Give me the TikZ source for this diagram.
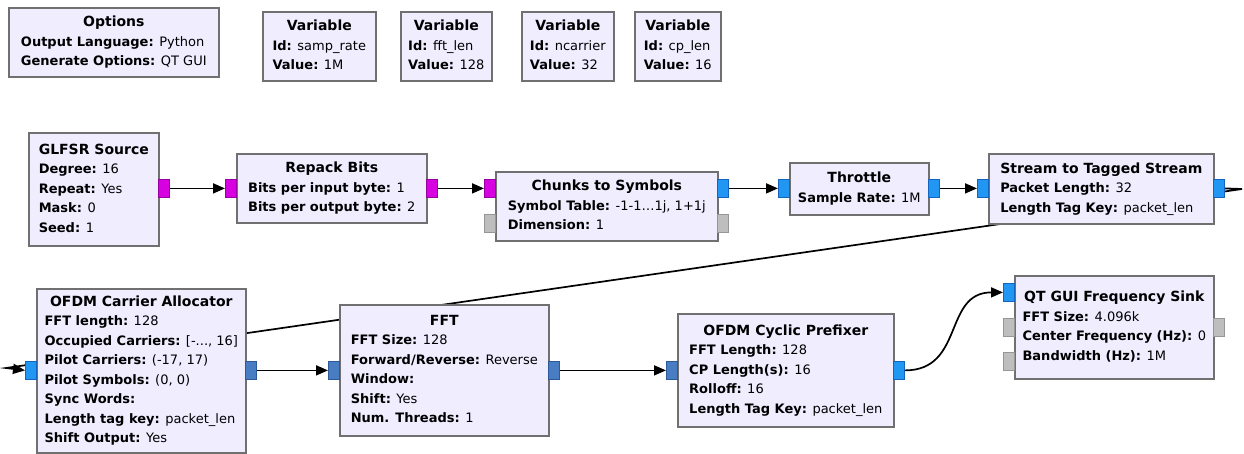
\documentclass[tikz,border=0pt]{standalone}
\usepackage{fontspec}
\setmainfont{DejaVu Sans}
\usetikzlibrary{arrows.meta}
\pgfdeclarelayer{bg}
\pgfsetlayers{bg,main}
\definecolor{blockfill}{RGB}{240,237,255}
\definecolor{blockedge}{RGB}{112,112,112}
\definecolor{pbyte}{RGB}{214,0,224}
\definecolor{pbyteedge}{RGB}{150,0,160}
\definecolor{pcpx}{RGB}{33,150,243}
\definecolor{pcpxedge}{RGB}{20,100,190}
\definecolor{pvec}{RGB}{72,125,195}
\definecolor{pvecedge}{RGB}{45,90,150}
\definecolor{pmsg}{RGB}{190,190,190}
\definecolor{pmsgedge}{RGB}{150,150,150}
\newcommand{\ttl}[1]{\multicolumn{1}{@{}c@{}}{\fontsize{14}{19.5}\selectfont\bfseries #1}}
\newcommand{\prm}[2]{\textbf{#1:} #2}
\tikzset{
  block/.style={draw=blockedge, fill=blockfill, line width=1.6pt, inner sep=0pt,
    anchor=north west, font=\fontsize{13}{19.5}\selectfont},
  port/.style={anchor=north west, minimum width=11pt, minimum height=18pt, inner sep=0pt, line width=0.8pt},
  bytep/.style={port, fill=pbyte, draw=pbyteedge},
  cpxp/.style={port, fill=pcpx, draw=pcpxedge},
  vecp/.style={port, fill=pvec, draw=pvecedge},
  msgp/.style={port, fill=pmsg, draw=pmsgedge},
  conn/.style={line width=1.7pt, -{Triangle[length=12pt,width=10pt]}},
}
\begin{document}
\begin{tikzpicture}[x=1pt,y=-1pt]
\useasboundingbox (0,0) rectangle (1244,454);
\begin{pgfonlayer}{bg}
\fill[white] (0,0) rectangle (1244,454);
\end{pgfonlayer}

% top row
\node[block, minimum width=210pt, minimum height=69pt] (options) at (8,7)
  {\begin{tabular}{@{}l@{}}\ttl{Options}\\\prm{Output Language}{Python}\\\prm{Generate Options}{QT GUI}\end{tabular}};
\node[block, minimum width=113pt, minimum height=69pt] (var1) at (262,11)
  {\begin{tabular}{@{}l@{}}\ttl{Variable}\\\prm{Id}{samp\_rate}\\\prm{Value}{1M}\end{tabular}};
\node[block, minimum width=91pt, minimum height=69pt] (var2) at (400,11)
  {\begin{tabular}{@{}l@{}}\ttl{Variable}\\\prm{Id}{fft\_len}\\\prm{Value}{128}\end{tabular}};
\node[block, minimum width=92pt, minimum height=69pt] (var3) at (521,11)
  {\begin{tabular}{@{}l@{}}\ttl{Variable}\\\prm{Id}{ncarrier}\\\prm{Value}{32}\end{tabular}};
\node[block, minimum width=86pt, minimum height=69pt] (var4) at (634,11)
  {\begin{tabular}{@{}l@{}}\ttl{Variable}\\\prm{Id}{cp\_len}\\\prm{Value}{16}\end{tabular}};

% second row
\node[block, minimum width=130pt, minimum height=113pt] (glfsr) at (28,132)
  {\begin{tabular}{@{}l@{}}\ttl{GLFSR Source}\\\prm{Degree}{16}\\\prm{Repeat}{Yes}\\\prm{Mask}{0}\\\prm{Seed}{1}\end{tabular}};
\node[block, minimum width=190pt, minimum height=69pt] (repack) at (236,153)
  {\begin{tabular}{@{}l@{}}\ttl{Repack Bits}\\\prm{Bits per input byte}{1}\\\prm{Bits per output byte}{2}\end{tabular}};
\node[block, minimum width=222pt, minimum height=69pt] (chunks) at (495,171)
  {\begin{tabular}{@{}l@{}}\ttl{Chunks to Symbols}\\\prm{Symbol Table}{-1-1…1j, 1+1j}\\\prm{Dimension}{1}\end{tabular}};
\node[block, minimum width=139pt, minimum height=52pt] (thr) at (789,162)
  {\begin{tabular}{@{}l@{}}\ttl{Throttle}\\\prm{Sample Rate}{1M}\end{tabular}};
\node[block, minimum width=225pt, minimum height=70pt] (sts) at (988,153)
  {\begin{tabular}{@{}l@{}}\ttl{Stream to Tagged Stream}\\\prm{Packet Length}{32}\\\prm{Length Tag Key}{packet\_len}\end{tabular}};

% third row
\node[block, minimum width=209pt, minimum height=164pt] (cca) at (36,288)
  {\begin{tabular}{@{}l@{}}\ttl{OFDM Carrier Allocator}\\\prm{FFT length}{128}\\\prm{Occupied Carriers}{[-..., 16]}\\\prm{Pilot Carriers}{(-17, 17)}\\\prm{Pilot Symbols}{(0, 0)}\\\prm{Sync Words}{}\\\prm{Length tag key}{packet\_len}\\\prm{Shift Output}{Yes}\end{tabular}};
\node[block, minimum width=209pt, minimum height=131pt] (fft) at (339,304)
  {\begin{tabular}{@{}l@{}}\ttl{FFT}\\\prm{FFT Size}{128}\\\prm{Forward/Reverse}{Reverse}\\\prm{Window}{}\\\prm{Shift}{Yes}\\\prm{Num. Threads}{1}\end{tabular}};
\node[block, minimum width=216pt, minimum height=113pt] (ocp) at (677,313)
  {\begin{tabular}{@{}l@{}}\ttl{OFDM Cyclic Prefixer}\\\prm{FFT Length}{128}\\\prm{CP Length(s)}{16}\\\prm{Rolloff}{16}\\\prm{Length Tag Key}{packet\_len}\end{tabular}};
\node[block, minimum width=199pt, minimum height=103pt] (qt) at (1014,275)
  {\begin{tabular}{@{}l@{}}\ttl{QT GUI Frequency Sink}\\\prm{FFT Size}{4.096k}\\\prm{Center Frequency (Hz)}{0}\\\prm{Bandwidth (Hz)}{1M}\end{tabular}};

% ports
\node[bytep] (glfsro) at (158,179) {};
\node[bytep] (repacki) at (225,179) {};
\node[bytep] (repacko) at (426,179) {};
\node[bytep] (chunksi) at (484,179) {};
\node[msgp] (chunksmi) at (484,214) {};
\node[cpxp] (chunkso) at (717,179) {};
\node[msgp] (chunksmo) at (717,214) {};
\node[cpxp] (thri) at (778,179) {};
\node[cpxp] (thro) at (928,179) {};
\node[cpxp] (stsi) at (977,179) {};
\node[cpxp] (stso) at (1213,179) {};
\node[cpxp] (ccai) at (25,361) {};
\node[vecp] (ccao) at (245,361) {};
\node[vecp] (ffti) at (328,361) {};
\node[vecp] (ffto) at (548,361) {};
\node[vecp] (ocpi) at (666,361) {};
\node[cpxp] (ocpo) at (893,361) {};
\node[cpxp] (qti) at (1003,283) {};
\node[msgp] (qtmi1) at (1003,318) {};
\node[msgp] (qtmi2) at (1003,352) {};
\node[msgp] (qtmo) at (1213,318) {};

% connections
\draw[conn] (glfsro) -- (repacki);
\draw[conn] (repacko) -- (chunksi);
\draw[conn] (chunkso) -- (thri);
\draw[conn] (thro) -- (stsi);
\draw[conn] (ccao) -- (ffti);
\draw[conn] (ffto) -- (ocpi);
\draw[conn] (ocpo.east) .. controls +(60,0) and +(-60,0) .. (qti.west);
\coordinate (wrapa) at (1242,189);
\coordinate (wrapb) at (6,368);
\begin{pgfonlayer}{bg}
\draw[conn] (stso.east) -- (wrapa) -- (wrapb) -- (ccai.west);
\end{pgfonlayer}
\end{tikzpicture}
\end{document}
